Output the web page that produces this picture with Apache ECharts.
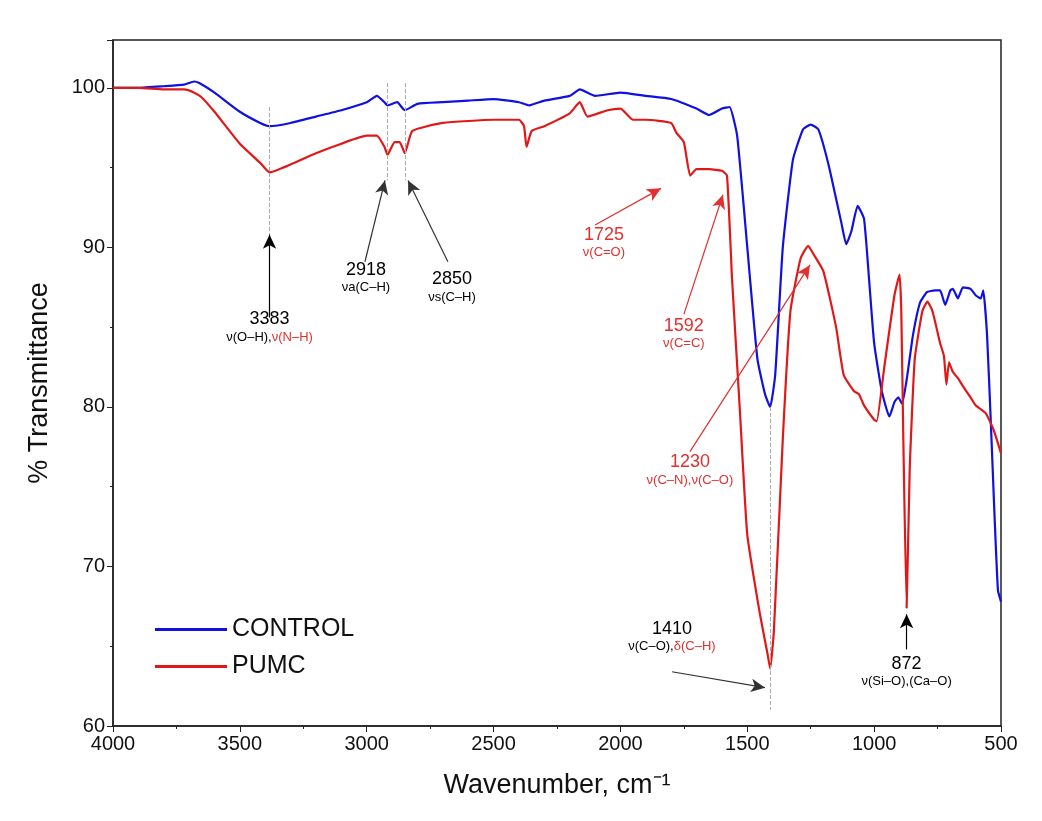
<!DOCTYPE html>
<html>
<head>
<meta charset="UTF-8">
<script src="https://cdn.jsdelivr.net/npm/echarts@6/dist/echarts.min.js"></script>
<style>*{margin:0;padding:0}html,body{width:100%;height:100%;background:#fff}</style>
</head>
<body>
<div id="main" style="width:1042px;height:821px"></div>
<script>
// wavenumber / transmittance
var ctrlX = [4000,3900,3800,3720,3680,3660,3600,3500,3420,3383,3300,3200,3100,3000,2960,2930,2918,2880,2850,2800,2700,2600,2500,2400,2360,2300,2200,2160,2100,2000,1900,1800,1700,1650,1600,1570,1540,1500,1460,1430,1410,1390,1360,1320,1280,1250,1220,1180,1130,1110,1090,1065,1040,1020,1000,970,940,920,905,890,870,847,820,792,760,740,720,700,690,670,650,620,600,580,570,555,540,525,512,500];
var ctrlY = [100,100,100.1,100.2,100.4,100.3,99.7,98.5,97.8,97.6,97.8,98.2,98.6,99.1,99.5,99.1,98.9,99.1,98.6,99.0,99.1,99.2,99.3,99.1,98.9,99.2,99.5,99.9,99.5,99.7,99.5,99.3,98.7,98.3,98.7,98.8,97.0,90,83,80.8,80.0,82,90,95.5,97.4,97.7,97.4,95.2,91.6,90.2,91,92.6,91.8,88,84,81,79.4,80.3,80.6,80.2,81.9,84.5,86.5,87.2,87.3,87.3,86.4,87.3,87.4,86.8,87.5,87.4,87,86.8,87.3,84.5,79,73,68.5,67.8];
var pumcX = [4000,3900,3800,3720,3680,3650,3600,3500,3420,3383,3300,3200,3100,3000,2960,2930,2918,2890,2870,2850,2820,2700,2500,2400,2380,2370,2350,2300,2200,2160,2130,2050,2000,1950,1900,1800,1780,1750,1725,1700,1650,1600,1580,1560,1530,1500,1450,1420,1410,1395,1360,1330,1290,1260,1240,1200,1150,1120,1080,1060,1040,1000,990,960,920,900,893,885,872,860,840,810,790,770,740,725,715,705,690,670,650,620,600,560,530,500];
var pumcY = [100,100,99.9,99.9,99.7,99.4,98.5,96.5,95.3,94.7,95.2,95.9,96.5,97.0,97.0,96.3,95.8,96.6,96.6,95.9,97.3,97.8,98.0,98.0,97.6,96.3,97.3,97.6,98.4,99.1,98.2,98.6,98.7,98.0,98.0,97.8,97.2,96.6,94.5,94.9,94.9,94.8,94.5,88,80,72,67,64.5,63.6,66,78,86,89.3,90.1,89.6,88.5,85,82,81,80.8,80.1,79.2,79.1,82.5,87,88.3,86,78,67.4,76,83,86,86.6,86,84,83.2,81.4,82.8,82.2,81.8,81.3,80.6,80.1,79.6,78.6,77.1];
// annotation arrows [fromX, fromY, toX, toY, colour]
var arrows = [
  [3383,85.6,3383,90.8,'#000'],[3007,89.1,2928,94.2,'#333'],[2680,89.1,2837,94.2,'#333'],
  [2100,91.4,1840,93.7,'#e03030'],[1750,85.8,1596,93.3,'#e03030'],[1726,77.2,1253,88.9,'#e03030'],
  [1797,63.4,1430,62.4,'#333'],[872,64.8,872,67.0,'#000']];
// dashed guide lines [x, yTop, yBottom]
var guides = [[3383,98.8,90.8],[2918,100.3,94.2],[2850,100.3,94.2],[1410,80,61]];
// labels [x, y, number, colour, sub rich text]
var labels = [
  [3383,85.0,'3383','#000','{k|ν(O–H),}{r|ν(N–H)}'],
  [3003,88.1,'2918','#000','{k|νa(C–H)}'],
  [2664,87.5,'2850','#000','{k|νs(C–H)}'],
  [2065,90.3,'1725','#e03030','{r|ν(C=O)}'],
  [1750,84.6,'1592','#e03030','{r|ν(C=C)}'],
  [1726,76.05,'1230','#e03030','{r|ν(C–N),ν(C–O)}'],
  [1797,65.6,'1410','#000','{k|ν(C–O),}{r|δ(C–H)}'],
  [872,63.4,'872','#000','{k|ν(Si–O),(Ca–O)}']];

function zip(a,b){var o=[];for(var i=0;i<a.length;i++)o.push([a[i],b[i]]);return o;}
var arrowLines = arrows.map(function(a){return [{coord:[a[0],a[1]],lineStyle:{color:a[4]}},{coord:[a[2],a[3]]}];});
var guideLines = guides.map(function(g){return [{coord:[g[0],g[1]]},{coord:[g[0],g[2]]}];});

var chart = echarts.init(document.getElementById('main'));
chart.setOption({
  animation:false,
  textStyle:{fontFamily:'Liberation Sans, Arial'},
  grid:{left:113,right:41,top:40,bottom:95,show:true,borderColor:'#222',borderWidth:1.5},
  legend:{left:150,top:612,orient:'vertical',itemWidth:72,itemHeight:3,itemGap:12,icon:'rect',
    textStyle:{fontSize:25,color:'#111'},data:['CONTROL','PUMC']},
  xAxis:{type:'value',min:500,max:4000,interval:500,inverse:true,
    name:'Wavenumber, cm⁻¹',nameLocation:'middle',nameGap:46,nameTextStyle:{fontSize:27,color:'#111'},
    axisLine:{lineStyle:{color:'#222',width:1.5}},axisTick:{length:6,lineStyle:{color:'#222'}},
    minorTick:{show:true,splitNumber:2,length:3},
    axisLabel:{fontSize:20,color:'#111',formatter:function(v){return String(v);}},splitLine:{show:false}},
  yAxis:{type:'value',min:60,max:103,interval:10,
    name:'% Transmittance',nameLocation:'middle',nameGap:60,nameTextStyle:{fontSize:27,color:'#111'},
    axisLine:{show:true,lineStyle:{color:'#222',width:1.5}},axisTick:{show:true,length:6,lineStyle:{color:'#222'}},
    minorTick:{show:true,splitNumber:2,length:3},
    axisLabel:{fontSize:20,color:'#111',showMaxLabel:false},splitLine:{show:false}},
  series:[
    {name:'CONTROL',type:'line',data:zip(ctrlX,ctrlY),showSymbol:false,smooth:0.15,
      lineStyle:{color:'#1010e0',width:2.2},itemStyle:{color:'#1010e0'},z:3},
    {name:'PUMC',type:'line',data:zip(pumcX,pumcY),showSymbol:false,smooth:0.15,
      lineStyle:{color:'#e01818',width:2.2},itemStyle:{color:'#e01818'},z:4,
      markLine:{silent:true,symbol:'none',label:{show:false},
        lineStyle:{color:'#aaa',type:'dashed',width:1},data:guideLines}},
    {name:'arrows',type:'line',data:[],
      markLine:{silent:true,symbol:['none','arrow'],symbolSize:[10,14],label:{show:false},
        lineStyle:{type:'solid',width:1.2},data:arrowLines}}
  ]
});
var g = labels.map(function(l){
  var p = chart.convertToPixel({gridIndex:0},[l[0],l[1]]);
  return {type:'text',x:p[0],y:p[1],z:10,style:{
    text:'{n|'+l[2]+'}\n'+l[4],align:'center',verticalAlign:'middle',
    rich:{n:{fontSize:18,fill:l[3],lineHeight:20,align:'center'},
          k:{fontSize:13,fill:'#000',lineHeight:16},r:{fontSize:13,fill:'#e03030',lineHeight:16}}}};
});
chart.setOption({graphic:g});
</script>
</body>
</html>
